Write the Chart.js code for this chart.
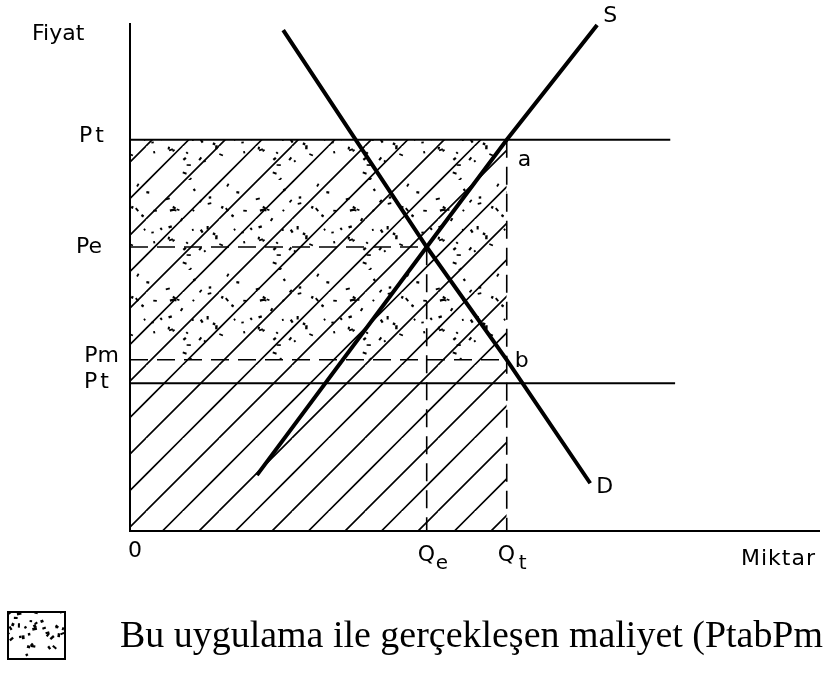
<!DOCTYPE html>
<html lang="tr">
<head>
<meta charset="UTF-8">
<title>Fiyat - Miktar</title>
<script src="https://cdn.jsdelivr.net/npm/chart.js"></script>
<style>
  html, body { margin: 0; padding: 0; background: #fff; }
  #wrap { width: 823px; height: 677px; }
</style>
</head>
<body>
<div id="wrap"><canvas id="chart" width="823" height="677"></canvas></div>
<script>
// price levels marked on the vertical axis
const priceLabels = ['Pt', 'Pe', 'Pm', 'Pt'];
const priceLevels = [77.0, 55.9, 33.7, 29.1];
// quantities marked on the horizontal axis (Q with subscript)
const qtySubs = ['e', 't'];
const qtyLevels = [43.0, 54.6];
// supply (S) and demand (D) curves
const supplyX = [18.4, 43.0, 54.6, 67.7];
const supplyY = [11.0, 55.9, 77.0, 99.6];
const demandX = [22.2, 43.0, 54.6, 66.7];
const demandY = [98.6, 55.9, 33.7, 9.4];
// how far right the two Pt lines run
const ptLineEnds = [78.3, 79.0];

const [Pt, Pe, Pm, Pt2] = priceLevels;
const [Qe, Qt] = qtyLevels;

const canvas = document.getElementById('chart');
const ctx = canvas.getContext('2d');

function pts(xs, ys) {
    return xs.map((x, i) => ({ x: x, y: ys[i] }));
}

// diagonal hatching
function makeHatch() {
    const s = 36.5;
    const c = document.createElement('canvas');
    c.width = 73; c.height = 73;
    const g = c.getContext('2d');
    g.strokeStyle = '#000';
    g.lineWidth = 1.6;
    g.beginPath();
    for (let k = -1; k <= 4; k++) {
        g.moveTo(k * s - 80, 80);
        g.lineTo(k * s, 0);
    }
    g.stroke();
    return ctx.createPattern(c, 'repeat');
}

// speckle texture (fixed seed so it comes out the same every time)
function makeStipple(size, count, seed, grain) {
    const c = document.createElement('canvas');
    c.width = size; c.height = size;
    const g = c.getContext('2d');
    const rnd = () => { seed = (seed * 16807) % 2147483647; return seed / 2147483647; };
    g.fillStyle = '#000';
    for (let i = 0; i < count; i++) {
        const x = rnd() * size, y = rnd() * size;
        const w = grain + rnd() * 2.5, h = grain * 0.9 + rnd() * 0.8;
        g.save();
        g.translate(x, y);
        g.rotate(rnd() * Math.PI);
        g.fillRect(-w / 2, -h / 2, w, h);
        g.restore();
    }
    return ctx.createPattern(c, 'repeat');
}

const hatch = makeHatch();
const stipple = makeStipple(90, 38, 12345, 1.8);
const stippleDense = makeStipple(60, 48, 777, 2.2);

const labelFont = '22px "DejaVu Sans"';
const caption = 'Bu uygulama ile gerçekleşen maliyet (PtabPm)';

const drawExtras = {
    id: 'drawExtras',
    afterDatasetsDraw(chart) {
        const c = chart.ctx;
        const xs = chart.scales.x, ys = chart.scales.y;
        const x0 = xs.getPixelForValue(0), y0 = ys.getPixelForValue(0);
        const area = chart.chartArea;

        // axes
        c.save();
        c.strokeStyle = '#000';
        c.lineWidth = 2;
        c.beginPath();
        c.moveTo(x0, area.top);
        c.lineTo(x0, y0);
        c.lineTo(area.right, y0);
        c.stroke();

        c.fillStyle = '#000';
        c.font = labelFont;
        c.textBaseline = 'alphabetic';
        c.textAlign = 'left';
        c.fillText('Fiyat', 32, 40);
        c.letterSpacing = '1px';
        c.fillText('Miktar', 741, 565);
        c.letterSpacing = '0px';
        c.fillText('0', x0 - 2, 557);

        // price labels to the left of the axis
        const rightEdge = [104, 102, 119, 109];
        const nudge = [-4, 0, -4, -1];
        c.textAlign = 'right';
        c.textBaseline = 'middle';
        priceLabels.forEach((lab, i) => {
            c.letterSpacing = lab === 'Pt' ? '3px' : '0px';
            c.fillText(lab, rightEdge[i] + (lab === 'Pt' ? 3 : 0), ys.getPixelForValue(priceLevels[i]) + nudge[i]);
        });
        c.letterSpacing = '0px';

        // quantity labels below the axis
        c.textAlign = 'left';
        c.textBaseline = 'alphabetic';
        qtyLevels.forEach((q, i) => {
            const px = xs.getPixelForValue(q);
            c.font = labelFont;
            c.fillText('Q', px - 9, 561);
            c.font = '20px "DejaVu Sans"';
            c.fillText(qtySubs[i], px + 9 + i * 3, 569);
        });

        // point and curve names
        c.font = labelFont;
        c.fillText('a', xs.getPixelForValue(Qt) + 11, ys.getPixelForValue(Pt) + 26);
        c.fillText('b', xs.getPixelForValue(Qt) + 8, ys.getPixelForValue(Pm) + 7);
        c.fillText('S', xs.getPixelForValue(supplyX[3]) + 6, ys.getPixelForValue(supplyY[3]) - 3);
        c.fillText('D', xs.getPixelForValue(demandX[3]) + 6, ys.getPixelForValue(demandY[3]) + 10);

        // legend swatch and caption
        c.fillStyle = stippleDense;
        c.fillRect(8, 612, 57, 47);
        c.lineWidth = 2;
        c.strokeRect(8, 612, 57, 47);
        c.fillStyle = '#000';
        c.font = '37px "Liberation Serif"';
        const sx = 703 / c.measureText('Bu uygulama ile gerçekleşen maliyet (PtabPm').width;
        c.translate(120, 647);
        c.scale(sx, 1);
        c.fillText(caption, 0, 0);
        c.restore();
    }
};

new Chart(ctx, {
    type: 'scatter',
    data: {
        datasets: [
            { label: 'S', data: pts(supplyX, supplyY), showLine: true, borderColor: '#000', borderWidth: 4, pointRadius: 0 },
            { label: 'D', data: pts(demandX, demandY), showLine: true, borderColor: '#000', borderWidth: 4, pointRadius: 0 },
            { label: 'Pt', data: [{ x: 0, y: Pt }, { x: ptLineEnds[0], y: Pt }], showLine: true, borderColor: '#000', borderWidth: 2, pointRadius: 0 },
            { label: 'Pt2', data: [{ x: 0, y: Pt2 }, { x: ptLineEnds[1], y: Pt2 }], showLine: true, borderColor: '#000', borderWidth: 2, pointRadius: 0 },
            { label: 'Pe', data: [{ x: 0, y: Pe }, { x: Qe, y: Pe }, { x: Qe, y: 0 }], showLine: true, borderColor: '#000', borderWidth: 1.6, borderDash: [18, 9], pointRadius: 0 },
            { label: 'Pm', data: [{ x: 0, y: Pm }, { x: Qt, y: Pm }], showLine: true, borderColor: '#000', borderWidth: 1.6, borderDash: [18, 9], pointRadius: 0 },
            { label: 'Qt', data: [{ x: Qt, y: Pt }, { x: Qt, y: 0 }], showLine: true, borderColor: '#000', borderWidth: 1.6, borderDash: [18, 9], pointRadius: 0 },
            { label: 'maliyet', data: [{ x: 0, y: Pt }, { x: Qt, y: Pt }], showLine: true, borderWidth: 0, pointRadius: 0, fill: { value: Pm }, backgroundColor: stipple },
            { label: 'toplam', data: [{ x: 0, y: Pt }, { x: Qt, y: Pt }], showLine: true, borderWidth: 0, pointRadius: 0, fill: 'origin', backgroundColor: hatch }
        ]
    },
    options: {
        responsive: false,
        animation: false,
        layout: { padding: { left: 130, top: 23, right: 3, bottom: 146 } },
        scales: {
            x: { type: 'linear', min: 0, max: 100, display: false },
            y: { type: 'linear', min: 0, max: 100, display: false }
        },
        plugins: {
            legend: { display: false },
            tooltip: { enabled: false }
        }
    },
    plugins: [drawExtras]
});
</script>
</body>
</html>
